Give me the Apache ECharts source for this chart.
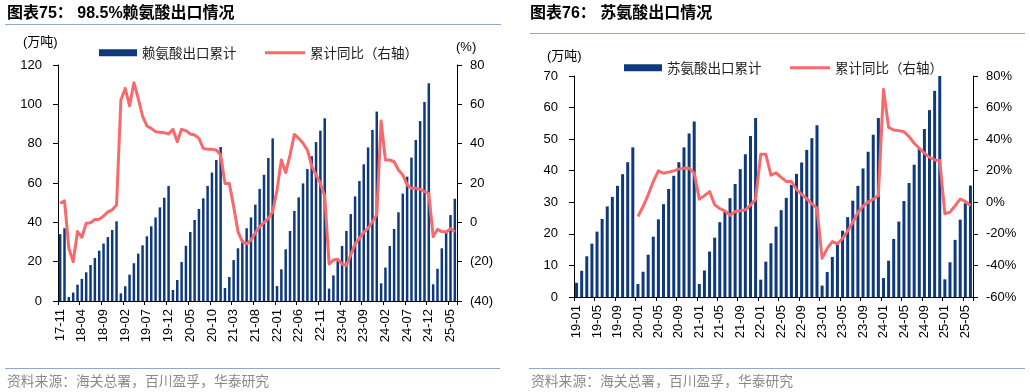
<!DOCTYPE html>
<html><head><meta charset="utf-8">
<script src="https://cdn.jsdelivr.net/npm/echarts@6/dist/echarts.min.js"></script>
<style>html,body{margin:0;padding:0;background:#fff}#c{width:1030px;height:392px}</style>
</head><body><div id="c"></div>
<script>
// ---------- Chart 75: 98.5% lysine ----------
const lysCats = ['17-11','17-12',
'18-01','18-02','18-03','18-04','18-05','18-06','18-07','18-08','18-09','18-10','18-11','18-12',
'19-01','19-02','19-03','19-04','19-05','19-06','19-07','19-08','19-09','19-10','19-11','19-12',
'20-01','20-02','20-03','20-04','20-05','20-06','20-07','20-08','20-09','20-10','20-11','20-12',
'21-01','21-02','21-03','21-04','21-05','21-06','21-07','21-08','21-09','21-10','21-11','21-12',
'22-01','22-02','22-03','22-04','22-05','22-06','22-07','22-08','22-09','22-10','22-11','22-12',
'23-01','23-02','23-03','23-04','23-05','23-06','23-07','23-08','23-09','23-10','23-11','23-12',
'24-01','24-02','24-03','24-04','24-05','24-06','24-07','24-08','24-09','24-10','24-11','24-12',
'25-01','25-02','25-03','25-04','25-05','25-06'];
const lysExport = [34,37,
2,4.3,8.3,11.2,14.6,18.3,21.9,25.6,29.2,32.5,36.1,40.5,
3.9,7.5,13.4,19.2,24.1,28.3,32.9,38,42.5,47.6,52.5,58.5,
5.6,10.7,19.8,28.1,35.1,41.2,46.8,52.2,58.5,65.3,71.7,78.3,
6.6,12.2,20.8,26.8,31,37,42.5,49,57,64.2,72.7,82.7,
7.6,16.1,26.3,35.6,45.8,52.7,59.8,67.1,73.6,80.8,86.6,92.9,
6.3,13,20.3,28,35.6,44.2,53.2,61,69.5,78.1,87,96.3,
9,17,28,36.6,45.1,54.6,63.2,72.9,81.9,91.5,101.2,110.7,
8.5,16.4,26.8,34.9,43.7,52];
const lysYoy = [9.7,11,
-13.2,-20,-4.7,-7.6,-0.5,-0.2,1.5,1.5,3.2,5.3,6.3,8.8,
62.2,68.1,59.2,71,63,54,49,47.8,46.1,45.8,45.6,44.9,
47.3,41,47.3,46.6,44.9,44.4,42.7,37.6,37.1,37.1,36.8,34.2,
19.8,19.8,8,-4.7,-9.8,-11,-9,-5.3,-2.2,-0.2,2,5.4,
16.4,31.7,25.3,34.2,44.7,42.7,40.2,36.8,28.6,24.1,19.8,13.4,
-21.2,-19.2,-18.8,-21.2,-21.9,-16.6,-11,-8.1,-5.1,-3,0.3,3.7,
51.5,31.7,31.7,30.8,26.6,24.1,19,17.3,17.3,16.8,15.6,14.7,
-7.3,-3.6,-4.7,-4.9,-3.2,-4.9];
const lysLeftAxis = {min:0, max:120, interval:20};
const lysRightAxis = {min:-40, max:80, interval:20};

// ---------- Chart 76: threonine ----------
const thrCats = [
'19-01','19-02','19-03','19-04','19-05','19-06','19-07','19-08','19-09','19-10','19-11','19-12',
'20-01','20-02','20-03','20-04','20-05','20-06','20-07','20-08','20-09','20-10','20-11','20-12',
'21-01','21-02','21-03','21-04','21-05','21-06','21-07','21-08','21-09','21-10','21-11','21-12',
'22-01','22-02','22-03','22-04','22-05','22-06','22-07','22-08','22-09','22-10','22-11','22-12',
'23-01','23-02','23-03','23-04','23-05','23-06','23-07','23-08','23-09','23-10','23-11','23-12',
'24-01','24-02','24-03','24-04','24-05','24-06','24-07','24-08','24-09','24-10','24-11','24-12',
'25-01','25-02','25-03','25-04','25-05','25-06'];
const thrExport = [
4.5,8.3,12.9,16.9,20.7,24.7,28.7,31.7,35.2,38.9,42.7,47.4,
4.1,8,13.4,19.1,24.6,29.4,34.2,38.4,42.7,47.4,51.8,55.6,
4.1,8.4,14.4,18.8,23.7,27.1,31.3,35.8,40.5,45.2,51,56.7,
5.5,11.2,17,22.3,27.5,31.4,35.5,39,42.6,46.6,50.3,54.4,
3.6,7.9,12.7,16.6,21,25.3,30.5,35.2,40.7,46,51.4,56.7,
6,11.5,18.4,23.9,30.4,36.1,41.9,47.1,53.2,59.2,65.3,70,
5.6,11,18.1,24.5,29.7,35.3];
const thrYoy = [
null,null,null,null,null,null,null,null,null,null,null,null,
-9,-2.7,4.7,13.2,19.9,18.4,19.1,19.9,21,21.6,21.6,18.5,
2,4.2,6.8,-1.6,-4,-5.5,-8.3,-5.8,-5.4,-4.8,-1.8,1.8,
30.4,30.4,17.2,18.6,15.8,13.2,13.1,8.1,5,2.3,-1,-3.7,
-35.5,-29.2,-24.9,-26.3,-22.9,-18.2,-12.6,-6.5,-2.4,0.2,2,4.3,
71.4,47.5,45.8,45.4,44.7,41.6,37.4,34.2,31.1,28.5,26.8,26.4,
-7.3,-6.2,-2.2,2,0.6,-2.2];
const thrLeftAxis = {min:0, max:70, interval:10};
const thrRightAxis = {min:-60, max:80, interval:20};

const BAR = '#0E3A7D';
const LINE = '#F8696B';
const SEP = '#8EA9CB';
const FONT = '"Liberation Sans", Arial, "Noto Sans CJK SC", sans-serif';
const CJK = '"Noto Sans CJK SC", "Liberation Sans", sans-serif';

function xAx(grid, data, iv){
  return {type:'category', gridIndex:grid, data:data, boundaryGap:true,
    axisLine:{show:true, lineStyle:{color:'#000', width:1}},
    axisTick:{show:true, interval:iv, length:4, lineStyle:{color:'#000'}},
    axisLabel:{interval:iv, rotate:90, fontSize:13, color:'#000', fontFamily:FONT, margin:8},
    splitLine:{show:false}};
}
function yAx(grid, rng, pos, fmt, margin){
  return {type:'value', gridIndex:grid, position:pos, min:rng.min, max:rng.max, interval:rng.interval,
    axisLine:{show:true, lineStyle:{color:'#000', width:1}},
    axisTick:{show:true, length:5, lineStyle:{color:'#000'}},
    axisLabel:{fontSize:13, color:'#000', fontFamily:FONT, margin:margin, formatter:fmt},
    splitLine:{show:false}};
}
function legend(name, left, top, w, h, icon){
  return {data:[{name:name, icon:icon}], left:left, top:top, padding:0, itemWidth:w, itemHeight:h, itemGap:0,
    selectedMode:false, textStyle:{fontSize:13.5, color:'#222', fontFamily:CJK}};
}
function txt(x, y, s, font, fill, align){
  return {type:'text', x:x, y:y, silent:true, style:{text:s, font:font, fill:fill||'#000', align:align||'left', verticalAlign:'middle'}};
}
function ln(x1, y1, x2, y2){
  return {type:'line', silent:true, shape:{x1:x1,y1:y1,x2:x2,y2:y2}, style:{stroke:SEP, lineWidth:1}};
}

const chart = echarts.init(document.getElementById('c'), null, {renderer:'canvas'});
chart.setOption({
  backgroundColor:'#fff',
  animation:false,
  grid:[{left:58, top:65, width:399, height:236}, {left:574, top:76, width:399, height:221}],
  xAxis:[xAx(0, lysCats, 4), xAx(1, thrCats, 3)],
  yAxis:[
    yAx(0, lysLeftAxis, 'left', v => String(v), 16),
    yAx(0, lysRightAxis, 'right', v => v < 0 ? '(' + (-v) + ')' : String(v), 13),
    yAx(1, thrLeftAxis, 'left', v => String(v), 16),
    yAx(1, thrRightAxis, 'right', v => v + '%', 13)
  ],
  legend:[
    legend('赖氨酸出口累计', 99, 46, 38, 7, 'rect'),
    legend('累计同比（右轴）', 265, 46, 40, 3, 'rect'),
    legend('苏氨酸出口累计', 624, 61, 38, 7, 'rect'),
    legend('累计同比（右轴）', 790, 61, 40, 3, 'rect')
  ],
  series:[
    {type:'bar', name:'赖氨酸出口累计', xAxisIndex:0, yAxisIndex:0, data:lysExport, barWidth:2.5, itemStyle:{color:BAR}},
    {type:'line', name:'累计同比（右轴）', xAxisIndex:0, yAxisIndex:1, data:lysYoy, symbol:'none', color:LINE,
      itemStyle:{color:LINE}, lineStyle:{color:LINE, width:3, join:'round'}, z:3},
    {type:'bar', name:'苏氨酸出口累计', xAxisIndex:1, yAxisIndex:2, data:thrExport, barWidth:3, itemStyle:{color:BAR}},
    {type:'line', name:'累计同比（右轴）', xAxisIndex:1, yAxisIndex:3, data:thrYoy, symbol:'none', color:LINE,
      itemStyle:{color:LINE}, lineStyle:{color:LINE, width:3, join:'round'}, z:3, connectNulls:false}
  ],
  graphic:[
    txt(7, 14, '图表75： 98.5%赖氨酸出口情况', 'bold 16px ' + FONT),
    txt(530, 14, '图表76： 苏氨酸出口情况', 'bold 16px ' + FONT),
    ln(5, 24.5, 501, 24.5),
    ln(530, 33.5, 1025, 33.5),
    txt(23, 42, '(万吨)', '13px ' + FONT, '#000'),
    txt(456, 47, '(%)', '13px ' + FONT, '#000'),
    txt(547, 56, '(万吨)', '13px ' + FONT, '#000'),
    ln(5, 368.5, 500, 368.5),
    ln(529, 368.5, 1025, 368.5),
    txt(7, 381, '资料来源：海关总署，百川盈孚，华泰研究', '13.8px ' + CJK, '#8a8a8a'),
    txt(531, 381, '资料来源：海关总署，百川盈孚，华泰研究', '13.8px ' + CJK, '#8a8a8a')
  ]
});
</script></body></html>
